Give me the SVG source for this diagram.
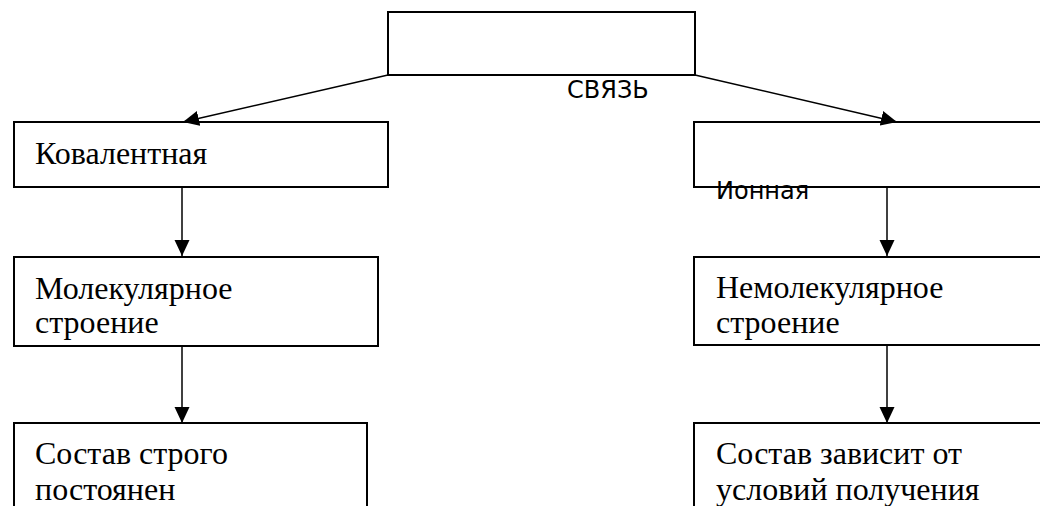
<svg xmlns="http://www.w3.org/2000/svg" width="1040" height="506" viewBox="0 0 1040 506">
<style>
.box{fill:#fff;stroke:#000;stroke-width:2}
.conn{fill:none;stroke:#000;stroke-width:1.5}
.serif{font-family:"Liberation Serif","Times New Roman",serif;font-size:32px;fill:#000}
.sans{font-family:"DejaVu Sans",sans-serif;font-size:24px;fill:#000}
</style>
<defs>
<marker id="arr" markerUnits="userSpaceOnUse" markerWidth="16" markerHeight="16" refX="16" refY="7.5" orient="auto" viewBox="0 0 16 15">
<path d="M0,0 L16,7.5 L0,15 z" fill="#000"/>
</marker>
</defs>
<rect width="1040" height="506" fill="#fff"/>
<g id="top">
<rect class="box" x="388" y="12" width="307" height="63"/>
</g>
<g id="kovalent">
<rect class="box" x="14" y="122" width="374" height="65"/>
<text class="serif" x="35" y="164">Ковалентная</text>
</g>
<g id="ion">
<rect class="box" x="694" y="122" width="360" height="65"/>
</g>
<g id="molec">
<rect class="box" x="14" y="257" width="364" height="89"/>
<text class="serif" x="35" y="299">Молекулярное</text>
<text class="serif" x="35" y="333">строение</text>
</g>
<g id="nemolec">
<rect class="box" x="694" y="257" width="360" height="88"/>
<text class="serif" x="716" y="298">Немолекулярное</text>
<text class="serif" x="716" y="333">строение</text>
</g>
<g id="sostav1">
<rect class="box" x="14" y="423" width="353" height="100"/>
<text class="serif" x="35" y="464">Состав строго</text>
<text class="serif" x="35" y="500">постоянен</text>
</g>
<g id="sostav2">
<rect class="box" x="694" y="423" width="360" height="100"/>
<text class="serif" x="716" y="464">Состав зависит от</text>
<text class="serif" x="716" y="500">условий получения</text>
</g>
<g id="connectors">
<line class="conn" x1="388" y1="75" x2="183" y2="122" marker-end="url(#arr)"/>
<line class="conn" x1="695" y1="75" x2="897" y2="122" marker-end="url(#arr)"/>
<line class="conn" x1="182" y1="187" x2="182" y2="256" marker-end="url(#arr)"/>
<line class="conn" x1="182" y1="346" x2="182" y2="423" marker-end="url(#arr)"/>
<line class="conn" x1="887" y1="187" x2="887" y2="256" marker-end="url(#arr)"/>
<line class="conn" x1="887" y1="345" x2="887" y2="423" marker-end="url(#arr)"/>
</g>
<text class="sans" x="567" y="98">СВЯЗЬ</text>
<text class="sans" x="716" y="199">Ионная</text>
</svg>
